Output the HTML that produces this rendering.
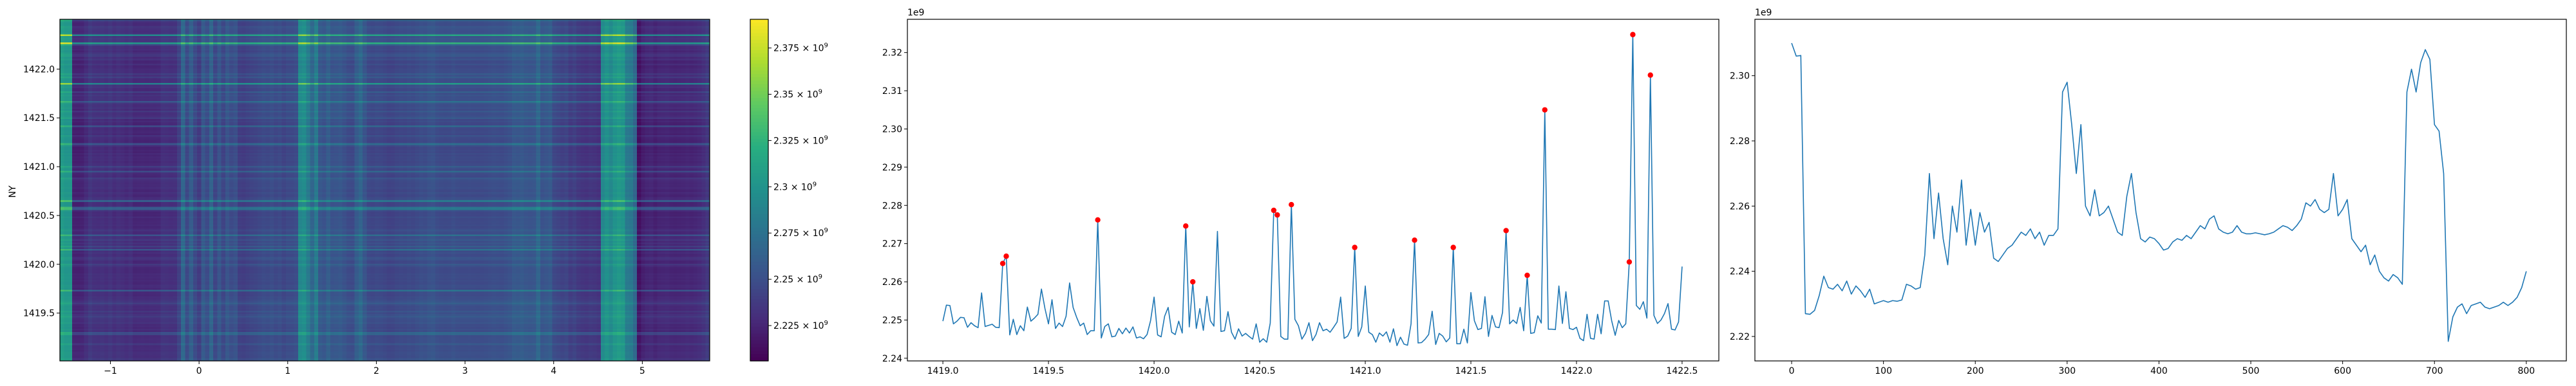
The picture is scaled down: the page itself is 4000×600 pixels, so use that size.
<!DOCTYPE html>
<html><head><meta charset="utf-8">
<style>
html,body{margin:0;padding:0;background:#fff;}
svg{display:block;}
text{font-family:"DejaVu Sans","Liberation Sans",sans-serif;font-size:14px;fill:#000;}
</style></head>
<body>
<svg id="fig" width="4000" height="600" viewBox="0 0 4000 600" xmlns="http://www.w3.org/2000/svg">
<rect x="0" y="0" width="4000" height="600" fill="#fff"/>
<g id="p1"></g>
<g id="cb"></g>
<g id="p2"></g>
<g id="p3"></g>
</svg>
<script>
// Row profile (panel 2): NY from 1419.0 step 1/60, values in units of 1e9
const rowStart = 1419.0;
const rowStep = 1/60;
const rowValues = [2.2497,2.2539,2.2538,2.2490,2.2497,2.2507,2.2506,2.2481,2.2493,2.2485,2.2480,
2.2571,2.2483,2.2486,2.2489,2.2481,2.2480,2.2648,2.2667,2.2461,2.2502,2.2462,2.2485,2.2472,2.2534,2.2497,
2.2505,2.2515,2.2581,2.2530,2.2490,2.2553,2.2478,2.2492,2.2483,2.2510,2.2597,2.2533,2.2507,2.2485,2.2492,
2.2462,2.2472,2.2472,2.2762,2.2453,2.2483,2.2490,2.2456,2.2458,2.2478,2.2464,2.2479,2.2466,2.2482,2.2453,
2.2456,2.2451,2.2462,2.2498,2.2560,2.2461,2.2456,2.2510,2.2533,2.2468,2.2462,2.2497,2.2466,2.2746,2.2482,
2.2600,2.2478,2.2530,2.2473,2.2562,2.2498,2.2484,2.2732,2.2470,2.2472,2.2522,2.2468,2.2450,2.2477,2.2458,
2.2465,2.2457,2.2450,2.2490,2.2442,2.2451,2.2442,2.2492,2.2787,2.2775,2.2457,2.2450,2.2450,2.2802,2.2502,
2.2485,2.2450,2.2465,2.2493,2.2446,2.2462,2.2493,2.2472,2.2476,2.2468,2.2481,2.2495,2.2560,2.2452,2.2458,
2.2478,2.2690,2.2457,2.2482,2.2589,2.2468,2.2462,2.2442,2.2466,2.2458,2.2469,2.2442,2.2477,2.2433,2.2455,
2.2437,2.2434,2.2490,2.2709,2.2440,2.2441,2.2450,2.2462,2.2523,2.2436,2.2465,2.2458,2.2443,2.2453,2.2690,
2.2438,2.2438,2.2476,2.2440,2.2572,2.2498,2.2475,2.2478,2.2561,2.2457,2.2512,2.2482,2.2480,2.2520,2.2734,
2.2490,2.2500,2.2491,2.2533,2.2472,2.2617,2.2465,2.2467,2.2511,2.2492,2.3050,2.2476,2.2476,2.2475,2.2589,
2.2491,2.2574,2.2478,2.2475,2.2481,2.2452,2.2446,2.2515,2.2452,2.2450,2.2515,2.2464,2.2550,2.2550,2.2498,
2.2460,2.2499,2.2480,2.2490,2.2652,2.3247,2.2538,2.2528,2.2548,2.2505,2.3141,2.2512,2.2491,2.2500,2.2517,
2.2543,2.2476,2.2474,2.2495,2.2640];
const peakIndices = [17,18,44,69,71,94,95,99,117,134,145,160,166,171,195,196,201];

// Column profile (panel 3): index 0..800 step 5
const colStep = 5;
const colValues = [2.3100,2.3060,2.3062,2.2270,2.2268,2.2280,2.2325,2.2385,2.2350,2.2345,2.2360,2.2340,2.2370,
2.2330,2.2355,2.2340,2.2320,2.2345,2.2300,2.2305,2.2310,2.2305,2.2310,2.2308,2.2312,2.2360,2.2355,2.2345,
2.2350,2.2450,2.2700,2.2500,2.2640,2.2500,2.2420,2.2600,2.2520,2.2680,2.2480,2.2590,2.2480,2.2580,2.2520,
2.2550,2.2440,2.2430,2.2450,2.2470,2.2480,2.2500,2.2520,2.2510,2.2530,2.2500,2.2520,2.2480,2.2510,2.2510,
2.2530,2.2950,2.2980,2.2850,2.2700,2.2850,2.2600,2.2570,2.2650,2.2570,2.2580,2.2600,2.2560,2.2520,2.2510,
2.2630,2.2700,2.2580,2.2500,2.2490,2.2505,2.2500,2.2485,2.2465,2.2470,2.2490,2.2500,2.2495,2.2510,2.2500,
2.2520,2.2540,2.2530,2.2560,2.2570,2.2530,2.2520,2.2515,2.2520,2.2540,2.2520,2.2515,2.2515,2.2518,2.2515,
2.2512,2.2515,2.2520,2.2530,2.2540,2.2535,2.2525,2.2540,2.2560,2.2610,2.2600,2.2620,2.2590,2.2580,2.2590,
2.2700,2.2570,2.2590,2.2620,2.2500,2.2480,2.2460,2.2480,2.2420,2.2450,2.2400,2.2380,2.2370,2.2390,2.2380,
2.2360,2.2950,2.3020,2.2950,2.3040,2.3080,2.3050,2.2850,2.2830,2.2700,2.2185,2.2260,2.2290,2.2300,2.2270,
2.2295,2.2300,2.2305,2.2290,2.2285,2.2290,2.2295,2.2305,2.2295,2.2305,2.2320,2.2350,2.2400];

const p1XTicks = [-1,0,1,2,3,4,5];
const p1YTicks = [1419.5,1420.0,1420.5,1421.0,1421.5,1422.0];
const cbTicks = [2.225,2.25,2.275,2.3,2.325,2.35,2.375];
const cbTickLabels = ["2.225","2.25","2.275","2.3","2.325","2.35","2.375"];
const p2XTicks = [1419.0,1419.5,1420.0,1420.5,1421.0,1421.5,1422.0,1422.5];
const p2YTicks = [2.24,2.25,2.26,2.27,2.28,2.29,2.30,2.31,2.32];
const p3XTicks = [0,100,200,300,400,500,600,700,800];
const p3YTicks = [2.22,2.24,2.26,2.28,2.30];

const NS="http://www.w3.org/2000/svg";
function mk(tag, attrs, parent){const e=document.createElementNS(NS,tag);for(const k in attrs)e.setAttribute(k,attrs[k]);parent.appendChild(e);return e;}
function lin(d0,d1,r0,r1){return v=>r0+(v-d0)*(r1-r0)/(d1-d0);}

const vir=["#440154","#472d7b","#3b528b","#2c728e","#21918c","#28ae80","#5ec962","#addc30","#fde725"].map(h=>[parseInt(h.slice(1,3),16),parseInt(h.slice(3,5),16),parseInt(h.slice(5,7),16)]);
function viridis(t){t=Math.max(0,Math.min(1,t));const s=t*8;const i=Math.min(7,Math.floor(s));const f=s-i;const a=vir[i],b=vir[i+1];
return "rgb("+Math.round(a[0]+(b[0]-a[0])*f)+","+Math.round(a[1]+(b[1]-a[1])*f)+","+Math.round(a[2]+(b[2]-a[2])*f)+")";}

function axesFrame(g,L,R,T,B){mk("rect",{x:L,y:T,width:R-L,height:B-T,fill:"none",stroke:"#000","stroke-width":1.2},g);}
function xTicks(g,ticks,sx,B,fmt,name){ticks.forEach(t=>{const x=sx(t);
 mk("line",{x1:x,y1:B,x2:x,y2:B+5,stroke:"#000","stroke-width":1},g);
 const tx=mk("text",{x:x,y:B+20,"text-anchor":"middle"},g);tx.textContent=fmt(t);
 
 });}
function yTicks(g,ticks,sy,L,fmt,name){ticks.forEach(t=>{const y=sy(t);
 mk("line",{x1:L-5,y1:y,x2:L,y2:y,stroke:"#000","stroke-width":1},g);
 const tx=mk("text",{x:L-8,y:y+5,"text-anchor":"end"},g);tx.textContent=fmt(t);
 
 });}

// ---------- Panel 1: heatmap ----------
(function(){
 const g=document.getElementById("p1");
 const L=93,R=1102,T=30,B=561;
 const sx=lin(-1.57,5.76,L,R), sy=lin(1419.01,1422.51,B,T);
 const cmin=2.2059,cmax=2.3905;
 const mean=rowValues.reduce((a,b)=>a+b,0)/rowValues.length;
 const nIdx=(colValues.length-1)*colStep+colStep;
 const ix=lin(0,nIdx,sx(-1.57),sx(5.76));
 const hg=mk("g",{"shape-rendering":"crispEdges"},g);
 for(let i=0;i<rowValues.length;i++){
  const y0=sy(rowStart+i*rowStep+rowStep/2), y1=sy(rowStart+i*rowStep-rowStep/2);
  for(let j=0;j<colValues.length;j++){
   const v=colValues[j]+(rowValues[i]-mean);
   const x0=ix(j*colStep), x1=ix((j+1)*colStep);
   const r=mk("rect",{x:x0.toFixed(2),y:Math.max(T,y0).toFixed(2),width:(x1-x0+0.3).toFixed(2),height:(Math.min(B,y1)-Math.max(T,y0)+0.3).toFixed(2),fill:viridis((v-cmin)/(cmax-cmin))},hg);
   
   
  }
 }
 axesFrame(g,L,R,T,B);
 xTicks(g,p1XTicks,sx,B,t=>t<0?"\u2212"+Math.abs(t):String(t),"x-tick-label");
 yTicks(g,p1YTicks,sy,L,t=>t.toFixed(1),"y-tick-label");
 const yl=mk("text",{x:0,y:0,transform:"translate(24,298) rotate(-90)","text-anchor":"middle"},g);yl.textContent="NY";
 
 
})();

// ---------- Colorbar ----------
(function(){
 const g=document.getElementById("cb");
 const L=1165,R=1193,T=30,B=561;
 const cmin=2.2059,cmax=2.3905;
 const sy=lin(cmin,cmax,B,T);
 const n=100;
 for(let k=0;k<n;k++){const y0=T+(B-T)*k/n;
  mk("rect",{x:L,y:y0,width:R-L,height:(B-T)/n+0.6,fill:viridis(1-(k+0.5)/n)},g);}
 axesFrame(g,L,R,T,B);
 cbTicks.forEach((t,i)=>{const y=sy(t);
  mk("line",{x1:R,y1:y,x2:R+5,y2:y,stroke:"#000","stroke-width":1},g);
  const tx=mk("text",{x:R+8,y:y+5},g);
  tx.innerHTML=cbTickLabels[i]+" \u00d7 10<tspan dy='-6' font-size='10'>9</tspan>";
  
  
 });
})();

// ---------- Panel 2: row profile with peaks ----------
(function(){
 const g=document.getElementById("p2");
 const L=1409,R=2669,T=30,B=561;
 const sx=lin(1418.832,1422.674,L,R), sy=lin(2.2393,2.3287,B,T);
 const pts=rowValues.map((v,i)=>sx(rowStart+i*rowStep).toFixed(2)+","+sy(v).toFixed(2)).join(" ");
 const pl=mk("polyline",{points:pts,fill:"none",stroke:"#1f77b4","stroke-width":1.6,"stroke-linejoin":"round"},g);
 
 
 peakIndices.forEach(i=>{
  const c=mk("circle",{cx:sx(rowStart+i*rowStep),cy:sy(rowValues[i]),r:4.2,fill:"#ff0000"},g);
  
  
 });
 axesFrame(g,L,R,T,B);
 xTicks(g,p2XTicks,sx,B,t=>t.toFixed(1),"x-tick-label");
 yTicks(g,p2YTicks,sy,L,t=>t.toFixed(2),"y-tick-label");
 const off=mk("text",{x:L,y:24},g);off.textContent="1e9";
 
 
})();

// ---------- Panel 3: column profile ----------
(function(){
 const g=document.getElementById("p3");
 const L=2725,R=3985,T=30,B=561;
 const sx=lin(-40,843.6,L,R), sy=lin(2.2125,2.3173,B,T);
 const pts=colValues.map((v,i)=>sx(i*colStep).toFixed(2)+","+sy(v).toFixed(2)).join(" ");
 const pl=mk("polyline",{points:pts,fill:"none",stroke:"#1f77b4","stroke-width":1.6,"stroke-linejoin":"round"},g);
 
 
 axesFrame(g,L,R,T,B);
 xTicks(g,p3XTicks,sx,B,t=>String(t),"x-tick-label");
 yTicks(g,p3YTicks,sy,L,t=>t.toFixed(2),"y-tick-label");
 const off=mk("text",{x:L,y:24},g);off.textContent="1e9";
 
 
})();
</script>
</body></html>
